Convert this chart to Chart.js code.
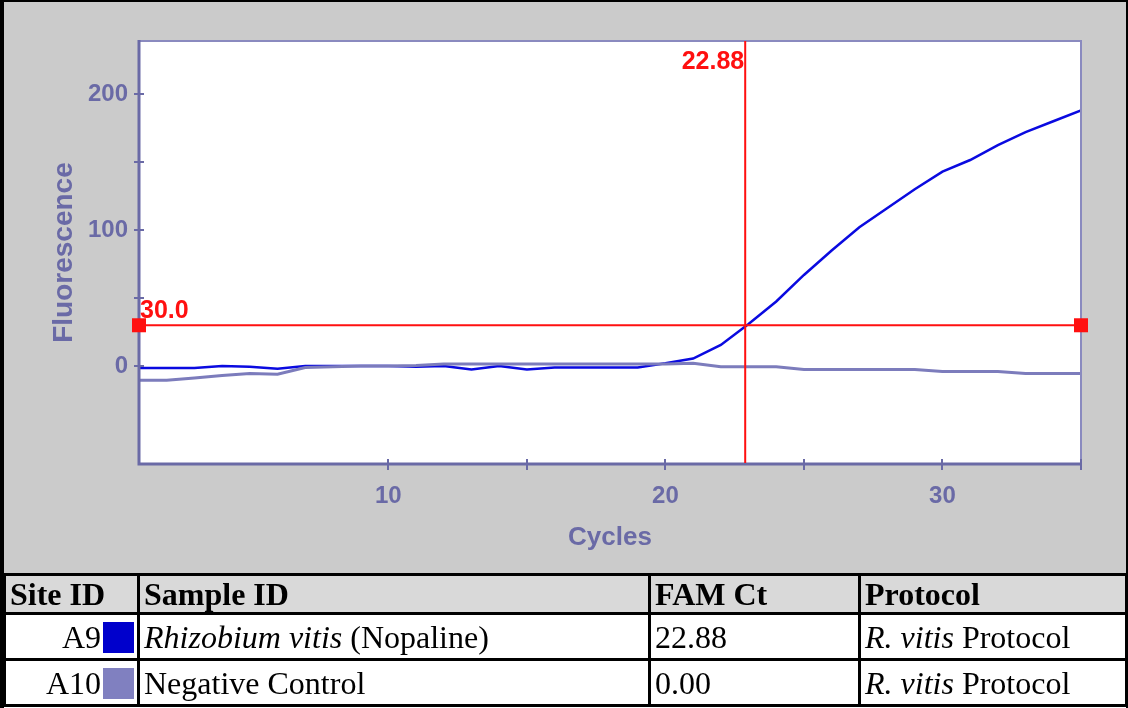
<!DOCTYPE html>
<html>
<head>
<meta charset="utf-8">
<script src="https://cdn.jsdelivr.net/npm/chart.js@4.4.1/dist/chart.umd.min.js"></script>
<style>
  html, body { margin: 0; padding: 0; background: #fff; }
  #wrap { position: relative; width: 1128px; height: 708px; overflow: hidden; background: #fff; }
  #chart { position: absolute; left: 0; top: 0; }
  #runs {
    position: absolute; left: 3px; top: 573px;
    border-collapse: collapse; table-layout: fixed;
    font-family: "Liberation Serif", "Times New Roman", serif; font-size: 32px; color: #000;
  }
  #runs th, #runs td { border: 3px solid #000; padding: 0 4px; white-space: nowrap; overflow: hidden; line-height: 1; }
  #runs th { background: #d9d9d9; text-align: left; height: 36px; font-weight: bold; }
  #runs td { background: #fff; height: 43px; }
  #runs td.site { text-align: right; padding-right: 3px; }
  .sw { display: inline-block; width: 31px; height: 31px; vertical-align: -5px; margin-left: 2px; }
  #frame { position: absolute; left: 0; top: 0; width: 1128px; height: 708px; box-sizing: border-box;
           border-left: 4px solid #000; border-top: 2px solid #000; border-right: 2px solid #000; pointer-events: none; }
</style>
</head>
<body>
<div id="wrap">
  <canvas id="chart" width="1128" height="574"></canvas>
  <table id="runs">
    <colgroup>
      <col style="width:134px"><col style="width:511px"><col style="width:210px"><col style="width:267px">
    </colgroup>
    <thead>
      <tr><th>Site ID</th><th>Sample ID</th><th>FAM Ct</th><th>Protocol</th></tr>
    </thead>
    <tbody id="rows"></tbody>
  </table>
  <div id="frame"></div>
</div>
<script>
// Amplification run: fluorescence per cycle for each well
const cycles = [1, 2, 3, 4, 5, 6, 7, 8, 9, 10, 11, 12, 13, 14, 15, 16, 17, 18, 19, 20,
                21, 22, 23, 24, 25, 26, 27, 28, 29, 30, 31, 32, 33, 34, 35];
const sampleA9 = [-1.5, -1.5, -1.5, 0, -0.5, -2, 0, 0, 0, 0, -0.5, 0, -2.5, 0, -2.5, -1, -1, -1, -1, 2,
                  5.5, 15.5, 31, 47.5, 67, 85, 102, 116, 130, 143, 151.5, 162.5, 172, 180, 188];
const negControl = [-10.5, -10.5, -8.7, -7, -5.5, -6, -1, -0.5, 0, 0, 0.5, 1.5, 1.5, 1.5, 1.5, 1.5, 1.5, 1.5, 1.5, 1.5,
                    2, -0.5, -0.5, -0.5, -2.5, -2.5, -2.5, -2.5, -2.5, -4, -4, -4, -5.5, -5.5, -5.5];

// Wells shown in the results table
const siteIds = ['A9', 'A10'];
const sampleNames = ['<i>Rhizobium vitis</i> (Nopaline)', 'Negative Control'];
const famCt = [22.88, 0.00];
const protocols = ['<i>R. vitis</i> Protocol', '<i>R. vitis</i> Protocol'];
const wellColors = ['#0000cc', '#8080c0'];

// Threshold setting and axis ticks
const threshold = 30.0;
const xTickValues = [10, 15, 20, 25, 30, 35];
const xTickLabels = [10, 20, 30];
const yTickValues = [0, 50, 100, 150, 200];
const yTickLabels = [0, 100, 200];

const axisColor = '#6a6aa6';
const red = '#ff1010';

// results table
const tbody = document.getElementById('rows');
siteIds.forEach((id, i) => {
  const tr = document.createElement('tr');
  tr.innerHTML =
    `<td class="site">${id}<span class="sw" style="background:${wellColors[i]}"></span></td>` +
    `<td>${sampleNames[i]}</td><td>${famCt[i].toFixed(2)}</td><td>${protocols[i]}</td>`;
  tbody.appendChild(tr);
});

// panel background, white plot area, frame, crossing tick marks and threshold/Ct markers
const plotDecor = {
  id: 'plotDecor',
  beforeDraw(chart) {
    const { ctx, chartArea: a } = chart;
    ctx.save();
    ctx.fillStyle = '#cbcbcb';
    ctx.fillRect(0, 0, chart.width, chart.height);
    ctx.fillStyle = '#ffffff';
    ctx.fillRect(a.left, a.top, a.right - a.left, a.bottom - a.top);
    ctx.restore();
  },
  afterDatasetsDraw(chart) {
    const { ctx, chartArea: a, scales: { x, y } } = chart;
    ctx.save();
    // light top / right frame
    ctx.strokeStyle = '#8a8abf';
    ctx.lineWidth = 2;
    ctx.beginPath();
    ctx.moveTo(a.left, a.top); ctx.lineTo(a.right, a.top); ctx.lineTo(a.right, a.bottom);
    ctx.stroke();
    // axis lines
    ctx.strokeStyle = axisColor;
    ctx.lineWidth = 3;
    ctx.beginPath();
    ctx.moveTo(a.left, a.top - 1); ctx.lineTo(a.left, a.bottom); ctx.lineTo(a.right + 1, a.bottom);
    ctx.stroke();
    // tick marks crossing the axes
    ctx.lineWidth = 2;
    ctx.beginPath();
    yTickValues.forEach(v => {
      const py = Math.round(y.getPixelForValue(v));
      ctx.moveTo(a.left - 5, py); ctx.lineTo(a.left + 5, py);
    });
    xTickValues.forEach(v => {
      const px = Math.round(x.getPixelForValue(v));
      ctx.moveTo(px, a.bottom - 5); ctx.lineTo(px, a.bottom + 6);
    });
    ctx.stroke();

    // threshold line and Ct marker
    const ct = famCt[0];
    const cx = x.getPixelForValue(ct);
    const ty = y.getPixelForValue(threshold);
    ctx.strokeStyle = red;
    ctx.lineWidth = 2;
    ctx.beginPath();
    ctx.moveTo(a.left, ty); ctx.lineTo(a.right, ty);
    ctx.moveTo(cx, a.top); ctx.lineTo(cx, a.bottom - 1);
    ctx.stroke();
    ctx.fillStyle = red;
    ctx.fillRect(a.left - 7, ty - 7, 14, 14);
    ctx.fillRect(a.right - 7, ty - 7, 14, 14);
    ctx.font = 'bold 25px "Liberation Sans", Arial, sans-serif';
    ctx.textBaseline = 'alphabetic';
    ctx.textAlign = 'right';
    ctx.fillText(ct.toFixed(2), cx - 1, a.top + 28);
    ctx.textAlign = 'left';
    ctx.fillText(threshold.toFixed(1), a.left + 1, ty - 7);
    ctx.restore();
  }
};

const tickFont = { family: '"Liberation Sans", Arial, sans-serif', size: 24, weight: 'bold' };
const xTitleFont = { family: '"Liberation Sans", Arial, sans-serif', size: 26, weight: 'bold' };
const yTitleFont = { family: '"Liberation Sans", Arial, sans-serif', size: 28, weight: 'bold' };

new Chart(document.getElementById('chart'), {
  type: 'line',
  data: {
    datasets: [
      {
        label: siteIds[0],
        data: cycles.map((c, i) => ({ x: c, y: sampleA9[i] })),
        borderColor: '#0a0ae0',
        borderWidth: 2.5,
        pointRadius: 0,
        tension: 0,
        order: 1
      },
      {
        label: siteIds[1],
        data: cycles.map((c, i) => ({ x: c, y: negControl[i] })),
        borderColor: '#7c7cbc',
        borderWidth: 3,
        pointRadius: 0,
        tension: 0,
        order: 0
      }
    ]
  },
  options: {
    responsive: false,
    animation: false,
    devicePixelRatio: 1,
    layout: { padding: { top: 41, right: 47, left: 0, bottom: 0 } },
    plugins: { legend: { display: false }, tooltip: { enabled: false } },
    scales: {
      x: {
        type: 'linear',
        min: 1,
        max: 35,
        afterBuildTicks: s => { s.ticks = xTickValues.map(v => ({ value: v })); },
        afterFit: s => { s.height = 110; },
        grid: { display: false },
        border: { display: false },
        ticks: {
          autoSkip: false,
          maxRotation: 0,
          padding: 10,
          color: axisColor,
          font: tickFont,
          callback: v => (xTickLabels.includes(v) ? String(v) : '')
        },
        title: { display: true, text: 'Cycles', color: axisColor, font: xTitleFont, padding: { bottom: 21 } }
      },
      y: {
        type: 'linear',
        min: -72,
        max: 239,
        afterBuildTicks: s => { s.ticks = yTickValues.map(v => ({ value: v })); },
        afterFit: s => { s.width = 139; },
        grid: { display: false },
        border: { display: false },
        ticks: {
          autoSkip: false,
          padding: 3,
          color: axisColor,
          font: tickFont,
          callback: v => (yTickLabels.includes(v) ? String(v) : '')
        },
        title: { display: true, text: 'Fluorescence', color: axisColor, font: yTitleFont, padding: { top: 47 } }
      }
    }
  },
  plugins: [plotDecor]
});
</script>
</body>
</html>
